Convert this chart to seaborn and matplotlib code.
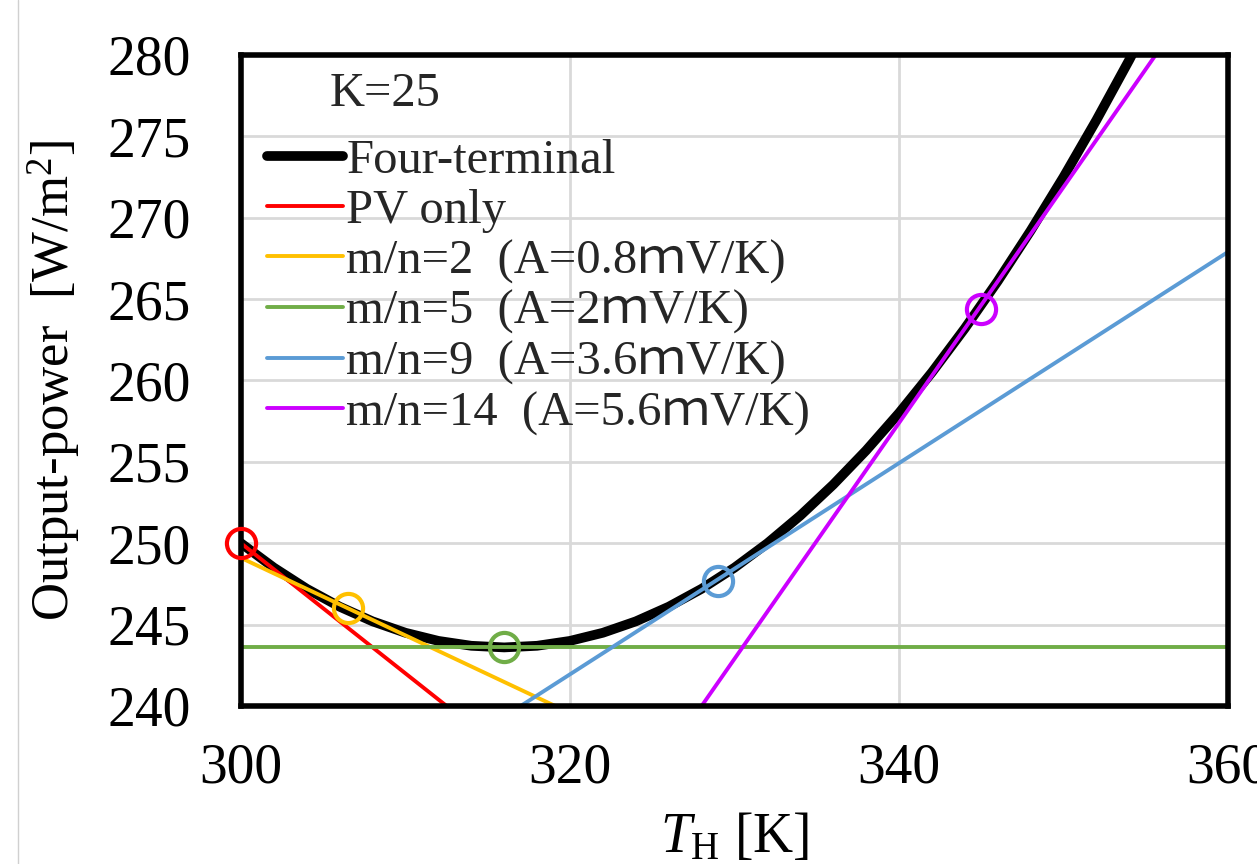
import matplotlib
matplotlib.use("Agg")
import matplotlib.pyplot as plt
import seaborn as sns
from matplotlib.lines import Line2D

# Four-terminal output power
t_h = [300, 302, 304, 306, 308, 310, 312, 314, 316, 318, 320, 322, 324, 326, 328,
       330, 332, 334, 336, 338, 340, 342, 344, 346, 348, 350, 352, 354, 356]
p_four = [250.0, 248.5, 247.2, 246.1, 245.2, 244.5, 244.0, 243.7, 243.6, 243.7, 244.0,
          244.5, 245.2, 246.1, 247.2, 248.5, 250.0, 251.7, 253.6, 255.7, 258.0, 260.5,
          263.2, 266.1, 269.2, 272.5, 276.0, 279.7, 283.6]

# straight lines (end points)
pv_x, pv_y = [300, 312.5], [250.0, 240.0]
mn2_x, mn2_y = [300, 319.1], [249.1, 240.0]
mn5_x, mn5_y = [300, 360], [243.6, 243.6]
mn9_x, mn9_y = [317.0, 360], [240.0, 267.9]
mn14_x, mn14_y = [328.0, 355.6], [240.0, 280.0]

# tangent points (circles)
touch_x = [300, 306.5, 316, 329, 345]
touch_y = [250.0, 246.0, 243.6, 247.7, 264.4]

labels = ["PV only", "m/n=2  (A=0.8ｍV/K)", "m/n=5  (A=2ｍV/K)",
          "m/n=9  (A=3.6ｍV/K)", "m/n=14  (A=5.6ｍV/K)"]
colors = ["#FF0000", "#FFC000", "#70AD47", "#5B9BD5", "#CC00FF"]

sns.set_theme(style="whitegrid")
plt.rcParams['font.family'] = ['Liberation Serif', 'Noto Sans CJK JP']
plt.rcParams['mathtext.fontset'] = 'custom'
plt.rcParams['mathtext.rm'] = 'Liberation Serif'
plt.rcParams['mathtext.it'] = 'Liberation Serif:italic'

fig = plt.figure(figsize=(12.57, 8.64), dpi=100)
ax = fig.add_axes([241/1257, 1 - 706/864, (1228-241)/1257, (706-55)/864])

sns.lineplot(x=t_h, y=p_four, color="black", linewidth=7, ax=ax, label="Four-terminal")
lines = [(pv_x, pv_y), (mn2_x, mn2_y), (mn5_x, mn5_y), (mn9_x, mn9_y), (mn14_x, mn14_y)]
for (lx, ly), lab, c in zip(lines, labels, colors):
    sns.lineplot(x=lx, y=ly, color=c, linewidth=2.8, ax=ax, label=lab)

for x, y, c in zip(touch_x, touch_y, colors):
    ax.plot([x], [y], 'o', mfc='none', mec=c, ms=21, mew=3, clip_on=False, zorder=5)

ax.set_xlim(300, 360)
ax.set_ylim(240, 280)
ax.set_xticks([300, 320, 340, 360])
ax.set_yticks(range(240, 281, 5))
ax.grid(True, color="#d9d9d9", linewidth=2)
ax.set_facecolor("white")
for s in ax.spines.values():
    s.set_color("black")
    s.set_linewidth(4)
ax.tick_params(axis='both', length=0, labelsize=40, colors='black')
ax.tick_params(axis='y', pad=36)
ax.tick_params(axis='x', pad=26)

ax.set_xlabel(r"$T_{\rm H}$ [K]", fontsize=40, color='black', labelpad=13)
ax.set_ylabel("Output-power  [W/m$^2$]", fontsize=38, color='black', labelpad=18)

ax.text(0.09, 0.94, "K=25", transform=ax.transAxes, fontsize=35, va='center', ha='left')
ax.legend(loc='upper left', bbox_to_anchor=(0.0, 0.912), frameon=False, fontsize=35,
          handlelength=1.55, handletextpad=0.08, labelspacing=0.13, borderaxespad=0.14)

fig.add_artist(Line2D([18/1257, 18/1257], [0, 1], transform=fig.transFigure,
                      color="#d0d0d0", linewidth=1))

fig.savefig("out.png", dpi=100)
